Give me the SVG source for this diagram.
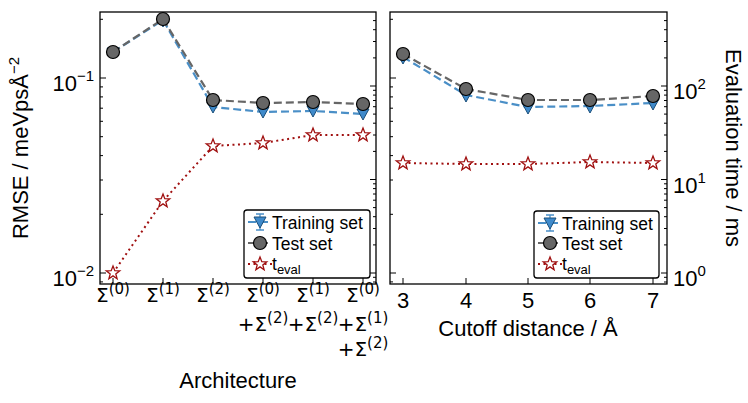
<svg xmlns="http://www.w3.org/2000/svg" width="748" height="403" viewBox="0 0 748 403">
<style>
text{font-family:"Liberation Sans",Arial,sans-serif;fill:#000}
.t{font-size:22px}
.s{font-family:"DejaVu Sans",sans-serif;font-size:20px}
.sup{font-size:15px}
.lg{font-size:17.5px}
.frame{fill:none;stroke:#000;stroke-width:1.3}
.tk{stroke:#000;stroke-width:1}
.tr{fill:none;stroke:#4a8fc7;stroke-width:2.2;stroke-dasharray:8,4}
.te{fill:none;stroke:#666;stroke-width:2.2;stroke-dasharray:8,4}
.ev{fill:none;stroke:#a01010;stroke-width:2;stroke-dasharray:2,3.5}
.circ{fill:#666;stroke:#000;stroke-width:1.2}
.tri{fill:#3f8acb;stroke:#1a4f7a;stroke-width:1}
.star{fill:#fff;stroke:#a01010;stroke-width:1.3}
.leg{fill:#fff;stroke:#000;stroke-width:1.3}
</style>
<defs>
<path id="st" d="M0,-7 L1.8,-2.3 L6.7,-2.2 L2.8,0.9 L4.1,5.7 L0,2.9 L-4.1,5.7 L-2.8,0.9 L-6.7,-2.2 L-1.8,-2.3Z" class="star"/>
<path id="tv" d="M-6,-5 L6,-5 L0,6Z" class="tri"/>
<g id="lt">
<path d="M0,78h6M0,273h6M0,19.3h3M0,86.9h3M0,96.9h3M0,108.2h3M0,121.3h3M0,136.7h3M0,155.6h3M0,180h3M0,214.3h3M0,281.9h3" class="tk"/>
</g>
<g id="rt">
<path d="M0,273h-6M0,179.5h-6M0,86h-6M0,244.9h-3M0,228.5h-3M0,216.7h-3M0,207.6h-3M0,200.2h-3M0,194h-3M0,188.6h-3M0,183.8h-3M0,151.4h-3M0,135h-3M0,123.2h-3M0,114.1h-3M0,106.7h-3M0,100.5h-3M0,95.1h-3M0,90.3h-3M0,57.9h-3M0,41.5h-3M0,29.7h-3M0,20.6h-3M0,277.3h-3M0,282h-3" class="tk"/>
</g>
</defs>
<g id="left-panel">
<rect x="100" y="12" width="276" height="272" class="frame"/>
<use href="#lt" x="100"/>
<use href="#rt" x="376"/>
<path d="M113,284v-6M163,284v-6M213,284v-6M263,284v-6M313,284v-6M363,284v-6" class="tk"/>
</g>
<g id="right-panel">
<rect x="390" y="12" width="277" height="272" class="frame"/>
<use href="#lt" x="390"/>
<use href="#rt" x="667"/>
<path d="M403,284v-6M466,284v-6M528,284v-6M590,284v-6M653,284v-6" class="tk"/>
</g>
<g id="connectors">
<polyline class="tr" points="113,52 163,20 213,107 263,112 313,111 363,114"/>
<polyline class="te" points="113,52 163,19 213,100 263,103 313,102 363,104"/>
<polyline class="ev" points="113,273 163,201 213,146 263,143 313,135 363,135"/>
<polyline class="tr" points="403,57 466,95 528,107 590,106 653,103"/>
<polyline class="te" points="403,54 466,89 528,100 590,100 653,96"/>
<polyline class="ev" points="403,163 466,164 528,164 590,162 653,163"/>
</g>
<g id="markers">
<use href="#tv" x="113" y="53"/><use href="#tv" x="163" y="21"/><use href="#tv" x="213" y="107"/><use href="#tv" x="263" y="112"/><use href="#tv" x="313" y="111"/><use href="#tv" x="363" y="114"/>
<circle cx="113" cy="52" r="6.5" class="circ"/><circle cx="163" cy="19" r="6.5" class="circ"/><circle cx="213" cy="100" r="6.5" class="circ"/><circle cx="263" cy="103" r="6.5" class="circ"/><circle cx="313" cy="102" r="6.5" class="circ"/><circle cx="363" cy="104" r="6.5" class="circ"/>
<use href="#st" x="113" y="273"/><use href="#st" x="163" y="201"/><use href="#st" x="213" y="146"/><use href="#st" x="263" y="143"/><use href="#st" x="313" y="135"/><use href="#st" x="363" y="135"/>
<use href="#tv" x="403" y="58"/><use href="#tv" x="466" y="96"/><use href="#tv" x="528" y="108"/><use href="#tv" x="590" y="107"/><use href="#tv" x="653" y="104"/>
<circle cx="403" cy="54" r="6.5" class="circ"/><circle cx="466" cy="89" r="6.5" class="circ"/><circle cx="528" cy="100" r="6.5" class="circ"/><circle cx="590" cy="100" r="6.5" class="circ"/><circle cx="653" cy="96" r="6.5" class="circ"/>
<use href="#st" x="403" y="163"/><use href="#st" x="466" y="164"/><use href="#st" x="528" y="164"/><use href="#st" x="590" y="162"/><use href="#st" x="653" y="163"/>
</g>
<g id="legend-left">
<rect x="244" y="210" width="126" height="68" rx="3" class="leg"/>
<path d="M248,222h24" class="tr" stroke-dasharray="6,3"/><path d="M260,214v16M256,214h8M256,230h8" stroke="#4a8fc7" stroke-width="1.3"/><use href="#tv" x="260" y="222"/>
<text x="272" y="229" class="lg">Training set</text>
<path d="M248,243h24" class="te" stroke-dasharray="6,3"/><circle cx="260" cy="243" r="6.5" class="circ"/>
<text x="272" y="250" class="lg">Test set</text>
<path d="M248,264h24" class="ev"/><use href="#st" x="260" y="264"/>
<text x="272" y="270" class="lg">t<tspan font-size="13" dy="4">eval</tspan></text>
</g>
<g id="legend-right">
<rect x="534" y="211" width="125" height="67" rx="3" class="leg"/>
<path d="M538,223h24" class="tr" stroke-dasharray="6,3"/><path d="M550,215v16M546,215h8M546,231h8" stroke="#4a8fc7" stroke-width="1.3"/><use href="#tv" x="550" y="223"/>
<text x="562" y="230" class="lg">Training set</text>
<path d="M538,243h24" class="te" stroke-dasharray="6,3"/><circle cx="550" cy="243" r="6.5" class="circ"/>
<text x="562" y="250" class="lg">Test set</text>
<path d="M538,264h24" class="ev"/><use href="#st" x="550" y="264"/>
<text x="562" y="270" class="lg">t<tspan font-size="13" dy="4">eval</tspan></text>
</g>
<g id="axis-labels">
<text x="94" y="286" class="t" text-anchor="end">10<tspan class="sup" dy="-10">−2</tspan></text>
<text x="94" y="91" class="t" text-anchor="end">10<tspan class="sup" dy="-10">−1</tspan></text>
<text x="673" y="286" class="t">10<tspan class="sup" dy="-10">0</tspan></text>
<text x="673" y="193" class="t">10<tspan class="sup" dy="-10">1</tspan></text>
<text x="673" y="99" class="t">10<tspan class="sup" dy="-10">2</tspan></text>
<text transform="translate(28,148) rotate(-90)" class="t" text-anchor="middle">RMSE / meVpsÅ<tspan class="sup" dy="-9">−2</tspan></text>
<text transform="translate(726,148) rotate(90)" class="t" text-anchor="middle">Evaluation time / ms</text>
<text x="113" y="302" class="s" text-anchor="middle">Σ<tspan class="sup" dy="-8">(0)</tspan></text>
<text x="163" y="302" class="s" text-anchor="middle">Σ<tspan class="sup" dy="-8">(1)</tspan></text>
<text x="213" y="302" class="s" text-anchor="middle">Σ<tspan class="sup" dy="-8">(2)</tspan></text>
<text x="263" y="302" class="s" text-anchor="middle">Σ<tspan class="sup" dy="-8">(0)</tspan></text>
<text x="313" y="302" class="s" text-anchor="middle">Σ<tspan class="sup" dy="-8">(1)</tspan></text>
<text x="363" y="302" class="s" text-anchor="middle">Σ<tspan class="sup" dy="-8">(0)</tspan></text>
<text x="263" y="331" class="s" text-anchor="middle">+Σ<tspan class="sup" dy="-8">(2)</tspan></text>
<text x="313" y="331" class="s" text-anchor="middle">+Σ<tspan class="sup" dy="-8">(2)</tspan></text>
<text x="363" y="331" class="s" text-anchor="middle">+Σ<tspan class="sup" dy="-8">(1)</tspan></text>
<text x="363" y="356" class="s" text-anchor="middle">+Σ<tspan class="sup" dy="-8">(2)</tspan></text>
<text x="238" y="388" class="t" text-anchor="middle">Architecture</text>
<text x="403" y="308" class="t" text-anchor="middle">3</text>
<text x="466" y="308" class="t" text-anchor="middle">4</text>
<text x="528" y="308" class="t" text-anchor="middle">5</text>
<text x="590" y="308" class="t" text-anchor="middle">6</text>
<text x="653" y="308" class="t" text-anchor="middle">7</text>
<text x="528" y="336" class="t" text-anchor="middle">Cutoff distance / Å</text>
</g>
</svg>
